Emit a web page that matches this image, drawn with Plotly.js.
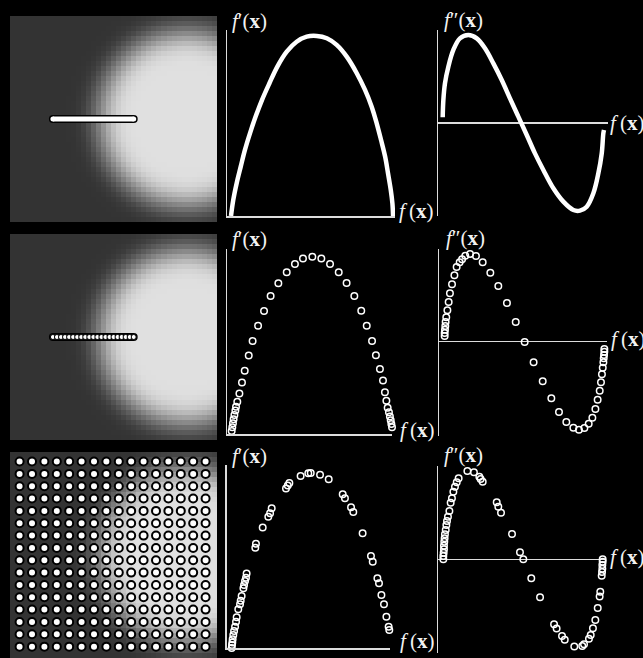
<!DOCTYPE html>
<html><head><meta charset="utf-8">
<script src="https://cdn.plot.ly/plotly-3.0.1.min.js"></script>
<style>html,body{margin:0;padding:0;background:#000;overflow:hidden}</style>
</head><body><div id="chart" style="width:643px;height:658px"></div>
<script>
// ---------- image (blurred disk) ----------
const imgSize = 41;
const diskCenter = [34.5, 20];
const diskRadius = 17;
const profileOffset = [-8,-6,-5,-4,-3,-2,-1,0,1,2,3,4,5,6,8];
const profileValue  = [224,223,220,214,203,186,163,138,113,91,73,61,55,52,51];

// sampling line on the image
const lineU = [8, 24];
const lineV = [20, 20];
const lineSamplesU = [8,8.8,9.6,10.4,11.2,12,12.8,13.6,14.4,15.2,16,16.8,17.6,18.4,19.2,20,20.8,21.6,22.4,23.2,24];
const lineSamplesV = [20,20,20,20,20,20,20,20,20,20,20,20,20,20,20,20,20,20,20,20,20];
// grid samples on the image
const gridCoords = [1.4,3.86,6.31,8.77,11.22,13.68,16.14,18.59,21.05,23.5,25.96,28.42,30.87,33.33,35.78,38.24];

// ---------- row 1 : continuous curves ----------
const r1Fx = [0,0.014,0.035,0.060,0.086,0.117,0.152,0.191,0.237,0.286,0.344,0.405,0.467,0.529,0.591,0.652,0.714,0.776,0.827,0.868,0.899,0.926,0.951,0.969,0.986,0.996,1.0];
const r1D1 = [0,0.089,0.182,0.274,0.367,0.459,0.552,0.644,0.737,0.830,0.913,0.968,0.996,1.0,0.987,0.95,0.885,0.793,0.70,0.607,0.515,0.422,0.33,0.237,0.144,0.07,0];
const r1Fx2 = [0,0.004,0.014,0.035,0.066,0.107,0.159,0.211,0.262,0.314,0.366,0.417,0.469,0.521,0.572,0.624,0.686,0.748,0.81,0.851,0.893,0.934,0.965,0.986,0.996,1.0];
const r1D2 = [0.065,0.261,0.451,0.64,0.83,0.962,1.0,0.962,0.849,0.678,0.489,0.28,0.072,-0.136,-0.345,-0.534,-0.742,-0.894,-0.989,-0.996,-0.951,-0.799,-0.572,-0.345,-0.117,-0.08];

// ---------- row 2 : line samples ----------
const r2Fx = [0,0.004,0.008,0.012,0.017,0.023,0.027,0.035,0.048,0.064,0.081,0.106,0.130,0.164,0.201,0.242,0.290,0.342,0.393,0.443,0.501,0.557,0.611,0.665,0.714,0.762,0.805,0.839,0.872,0.896,0.921,0.940,0.952,0.961,0.969,0.977,0.983,0.988,0.992,0.996,1.0];
const r2D1 = [0.017,0.038,0.060,0.083,0.107,0.132,0.154,0.182,0.229,0.291,0.357,0.442,0.524,0.611,0.694,0.778,0.850,0.912,0.959,0.989,1.0,0.989,0.959,0.912,0.852,0.778,0.695,0.611,0.524,0.444,0.367,0.301,0.235,0.188,0.148,0.122,0.098,0.077,0.056,0.038,0.019];
const r2Fx2 = [0,0,0.002,0.004,0.006,0.010,0.017,0.025,0.033,0.046,0.061,0.075,0.094,0.109,0.129,0.159,0.196,0.238,0.286,0.336,0.390,0.445,0.501,0.557,0.614,0.668,0.716,0.762,0.806,0.841,0.875,0.902,0.925,0.944,0.958,0.971,0.979,0.985,0.990,0.994,0.996,0.998,1.0,1.0];
const r2D2 = [0.065,0.099,0.137,0.179,0.224,0.278,0.357,0.452,0.551,0.653,0.756,0.851,0.904,0.938,0.980,0.999,0.976,0.904,0.786,0.634,0.441,0.224,-0.003,-0.235,-0.451,-0.645,-0.801,-0.915,-0.980,-1.002,-0.983,-0.934,-0.865,-0.766,-0.660,-0.558,-0.463,-0.372,-0.296,-0.235,-0.189,-0.152,-0.114,-0.083];

// ---------- row 3 : grid samples ----------
const r3Fx = [0,0.002,0.004,0.006,0.010,0.015,0.021,0.027,0.031,0.041,0.052,0.056,0.062,0.073,0.077,0.083,0.089,0.093,0.147,0.151,0.193,0.228,0.239,0.249,0.338,0.349,0.359,0.429,0.477,0.492,0.550,0.604,0.691,0.705,0.743,0.757,0.815,0.867,0.878,0.907,0.917,0.932,0.948,0.963,0.977,0.981,0.990,0.994,0.998,1.0];
const r3D1 = [0,0.017,0.032,0.050,0.074,0.097,0.122,0.150,0.175,0.221,0.250,0.270,0.297,0.341,0.360,0.383,0.402,0.425,0.573,0.596,0.688,0.750,0.770,0.798,0.912,0.928,0.943,0.983,0.998,1.0,0.990,0.964,0.878,0.855,0.804,0.777,0.655,0.526,0.493,0.398,0.370,0.303,0.250,0.179,0.122,0.103,0.046,0.027,0.011,0];
const r3Fx2 = [0,0,0.002,0.004,0.004,0.006,0.008,0.010,0.015,0.019,0.023,0.029,0.038,0.046,0.054,0.063,0.073,0.084,0.096,0.151,0.192,0.226,0.234,0.247,0.335,0.345,0.362,0.431,0.481,0.502,0.552,0.607,0.695,0.711,0.745,0.762,0.822,0.872,0.883,0.914,0.925,0.939,0.954,0.969,0.981,0.985,0.994,0.996,0.998,0.998,1.0,1.0];
const r3D2 = [0,0.037,0.075,0.113,0.154,0.200,0.237,0.283,0.332,0.388,0.434,0.483,0.547,0.641,0.690,0.766,0.823,0.872,0.917,1.0,0.985,0.936,0.909,0.879,0.645,0.596,0.528,0.287,0.079,0,-0.215,-0.431,-0.736,-0.785,-0.869,-0.910,-0.989,-0.982,-0.963,-0.899,-0.857,-0.782,-0.687,-0.552,-0.420,-0.367,-0.185,-0.144,-0.106,-0.064,-0.027,0];

// ---------- build image ----------
function profileAt(d){
  if (d <= profileOffset[0]) return profileValue[0];
  const n = profileOffset.length;
  if (d >= profileOffset[n-1]) return profileValue[n-1];
  for (let i=0;i<n-1;i++){
    if (d>=profileOffset[i] && d<=profileOffset[i+1]){
      const t=(d-profileOffset[i])/(profileOffset[i+1]-profileOffset[i]);
      return profileValue[i]+t*(profileValue[i+1]-profileValue[i]);
    }
  }
  return profileValue[n-1];
}
const z = [];
for (let v=0; v<imgSize; v++){
  const row=[];
  for (let u=0; u<imgSize; u++){
    const r=Math.hypot(u-diskCenter[0], v-diskCenter[1]);
    row.push(profileAt(r-diskRadius));
  }
  z.push(row);
}
const gridU=[], gridV=[];
gridCoords.forEach(v=>gridCoords.forEach(u=>{gridU.push(u);gridV.push(v);}));

const W=643, H=658;
const dx=(a,b)=>[a/W,b/W];
const dy=(t,b)=>[1-b/H,1-t/H];
const AX='#dcdcdc';
function ax(domain, range, extra){
  return Object.assign({domain, range, showgrid:false, zeroline:false, showticklabels:false,
    ticks:'', showline:false, fixedrange:true}, extra||{});
}
const lineX = {showline:true, linecolor:AX, linewidth:1.5};
const zeroY = {zeroline:true, zerolinecolor:AX, zerolinewidth:1.5};

const gray=[[0,'rgb(0,0,0)'],[1,'rgb(255,255,255)']];
const traces=[];
['x','x4','x7'].forEach((xa,i)=>{
  const ya=['y','y4','y7'][i];
  traces.push({type:'heatmap', z, colorscale:gray, zmin:0, zmax:255, showscale:false,
    xaxis:xa, yaxis:ya, hoverinfo:'skip'});
});
// row 1 bar
traces.push({type:'scatter', mode:'lines+markers', x:lineU, y:lineV, xaxis:'x', yaxis:'y',
  line:{color:'#000', width:8}, marker:{color:'#000', size:8}});
traces.push({type:'scatter', mode:'lines+markers', x:lineU, y:lineV, xaxis:'x', yaxis:'y',
  line:{color:'#fff', width:5}, marker:{color:'#fff', size:5}});
// row 2 bar with samples
traces.push({type:'scatter', mode:'lines+markers', x:lineU, y:lineV, xaxis:'x4', yaxis:'y4',
  line:{color:'#000', width:8}, marker:{color:'#000', size:8}});
traces.push({type:'scatter', mode:'markers', x:lineSamplesU, y:lineSamplesV, xaxis:'x4', yaxis:'y4',
  marker:{color:'#fff', size:5, line:{color:'#000', width:1}}});
// row 3 grid
traces.push({type:'scatter', mode:'markers', x:gridU, y:gridV, xaxis:'x7', yaxis:'y7',
  marker:{color:'#fff', size:8, line:{color:'#000', width:2}}});

// curves
traces.push({type:'scatter', mode:'lines', x:r1Fx, y:r1D1, xaxis:'x2', yaxis:'y2',
  line:{color:'#fff', width:4.5, shape:'spline'}});
traces.push({type:'scatter', mode:'lines', x:r1Fx2, y:r1D2, xaxis:'x3', yaxis:'y3',
  line:{color:'#fff', width:4.5, shape:'spline'}});
const openM={symbol:'circle-open', size:6.5, color:'#fff', line:{color:'#fff', width:1.5}};
traces.push({type:'scatter', mode:'markers', x:r2Fx, y:r2D1, xaxis:'x5', yaxis:'y5', marker:openM, cliponaxis:false});
traces.push({type:'scatter', mode:'markers', x:r2Fx2, y:r2D2, xaxis:'x6', yaxis:'y6', marker:openM, cliponaxis:false});
traces.push({type:'scatter', mode:'markers', x:r3Fx, y:r3D1, xaxis:'x8', yaxis:'y8', marker:openM, cliponaxis:false});
traces.push({type:'scatter', mode:'markers', x:r3Fx2, y:r3D2, xaxis:'x9', yaxis:'y9', marker:openM, cliponaxis:false});

const imgX=[-0.5,40.5], imgY=[40.5,-0.5];
const layout={
  width:W, height:H, margin:{l:0,r:0,t:0,b:0},
  paper_bgcolor:'#000', plot_bgcolor:'#000', showlegend:false,
  xaxis: ax(dx(10,217), imgX, {anchor:'y'}),
  yaxis: ax(dy(16,222), imgY, {anchor:'x'}),
  xaxis4: ax(dx(10,217), imgX, {anchor:'y4'}),
  yaxis4: ax(dy(234,440), imgY, {anchor:'x4'}),
  xaxis7: ax(dx(10,217), imgX, {anchor:'y7'}),
  yaxis7: ax(dy(452,658), imgY, {anchor:'x7'}),

  xaxis2: ax(dx(227,395), [-0.0247,1.012], Object.assign({anchor:'y2'}, lineX)),
  yaxis2: ax(dy(30,216), [0,1.033], Object.assign({anchor:'x2'}, lineX)),
  xaxis3: ax(dx(438.3,608), [-0.0273,1.0248], {anchor:'y3'}),
  yaxis3: ax(dy(30,216), [-1.057,1.057], Object.assign({anchor:'x3'}, lineX, zeroY)),

  xaxis5: ax(dx(227,392), [-0.029,0.996], Object.assign({anchor:'y5'}, lineX)),
  yaxis5: ax(dy(249,434), [0,1.0432], Object.assign({anchor:'x5'}, lineX)),
  xaxis6: ax(dx(439.3,606.7), [-0.0336,1.0148], {anchor:'y6'}),
  yaxis6: ax(dy(249,435.7), [-1.0706,1.0558], Object.assign({anchor:'x6'}, lineX, zeroY)),

  xaxis8: ax(dx(226.7,390), [-0.031,0.9855], Object.assign({anchor:'y8'}, lineX)),
  yaxis8: ax(dy(465,648), [0,1.0457], Object.assign({anchor:'x8'}, lineX)),
  xaxis9: ax(dx(438.3,605), [-0.0316,1.0147], {anchor:'y9'}),
  yaxis9: ax(dy(465.7,653.3), [-1.0646,1.060], Object.assign({anchor:'x9'}, lineX, zeroY)),
  annotations:[]
};
const LBL_D1='<i>f</i>′(<b>x</b>)', LBL_D2='<i>f</i>″(<b>x</b>)', LBL_F='<i>f</i>\u2009(<b>x</b>)';
const labels=[
  [LBL_D1,231,21],[LBL_F,398,211],[LBL_D2,443,20],[LBL_F,609,123],
  [LBL_D1,231,239],[LBL_F,399,430],[LBL_D2,445,238],[LBL_F,610,339],
  [LBL_D1,231,456],[LBL_F,399,641],[LBL_D2,443,455],[LBL_F,609,557]
];
labels.forEach(([t,px,py])=>layout.annotations.push({text:t, xref:'paper', yref:'paper',
  x:px/W, y:1-py/H, xanchor:'left', yanchor:'middle', showarrow:false, borderpad:0,
  font:{family:'Liberation Serif, DejaVu Serif, serif', size:21, color:'#f2f2f2'}}));

Plotly.newPlot('chart', traces, layout, {staticPlot:true, displayModeBar:false});
</script></body></html>
